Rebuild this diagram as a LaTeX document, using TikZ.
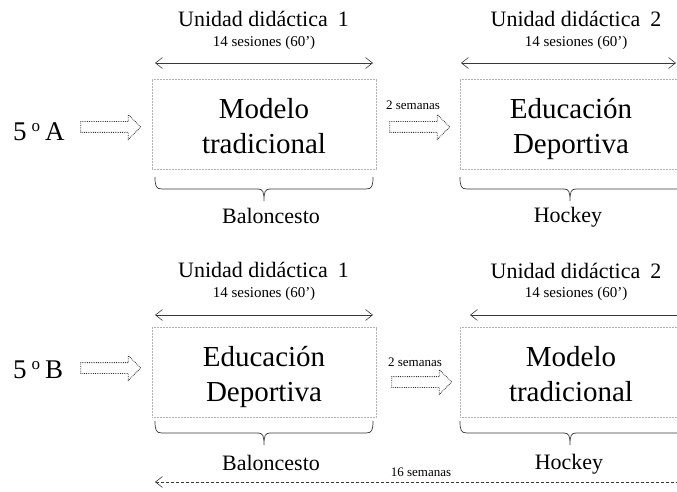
\documentclass[tikz,border=0pt]{standalone}
\usepackage{fontspec}
\setmainfont{Liberation Serif}
\usetikzlibrary{shapes.arrows,arrows.meta}
\newcommand\mybrace[4]{\draw[bracepath] (#1,#4) .. controls (#1,{#4+9}) and ({#1+1},{#4+12}) .. ({#1+7},{#4+12}) -- ({#3-6},{#4+12}) .. controls ({#3-1},{#4+12}) and (#3,{#4+15}) .. (#3,{#4+24}) .. controls (#3,{#4+15}) and ({#3+1},{#4+12}) .. ({#3+6},{#4+12}) -- ({#2-7},{#4+12}) .. controls ({#2-1},{#4+12}) and (#2,{#4+9}) .. (#2,#4);}
\begin{document}
\begin{tikzpicture}[x=1pt,y=-1pt,
  >={Straight Barb[length=7pt,width=11pt]},
  box/.style={draw=gray!60, line width=0.6pt, dash pattern=on 1pt off 0.5pt, minimum width=224pt, minimum height=90pt, inner sep=0pt},
  boxtext/.style={font=\fontsize{29}{35}\selectfont, align=center, inner sep=0pt},
  title/.style={font=\fontsize{22}{26}\selectfont, anchor=base, inner sep=0pt},
  sub/.style={font=\fontsize{15}{18}\selectfont, anchor=base, inner sep=0pt},
  small/.style={font=\fontsize{13}{15}\selectfont, anchor=base, inner sep=0pt},
  group/.style={font=\fontsize{27}{30}\selectfont, anchor=base west, inner sep=0pt},
  span/.style={draw=gray!45!black, line width=0.6pt},
  blockarrow/.style={shape=single arrow, draw=black!80, line width=0.8pt, densely dotted, inner xsep=0pt, inner ysep=5pt, minimum height=60pt, single arrow head extend=7pt},
  bracepath/.style={draw=gray!45!black, line width=0.7pt},
]
\clip (0,0) rectangle (677,492);
\fill[white] (0,0) rectangle (677,492);

% ---------- Row A ----------
\node[title] (t1a) at (263.5,27) {Unidad didáctica\hspace{10pt}1};
\node[sub] (s1a) at (264,47) {14 sesiones (60’)};
\coordinate (l1a) at (155,63); \coordinate (r1a) at (373,63);
\draw[span, <->] (l1a) -- (r1a);
\node[box] (b1a) at (264,124) {};
\node[boxtext] (m1a) at ([yshift=-5pt]b1a.center) {Modelo\\tradicional\vphantom{p}};
\mybrace{155}{373}{264}{177}
\node[title] (bal1) at (271,223) {Baloncesto};

\node[title] (t2a) at (576,27) {Unidad didáctica\hspace{10pt}2};
\node[sub] (s2a) at (576,47) {14 sesiones (60’)};
\coordinate (l2a) at (461,63); \coordinate (r2a) at (676,63);
\draw[span, <->] (l2a) -- (r2a);
\node[box] (b2a) at (572,124) {};
\node[boxtext] (m2a) at ([xshift=-1pt,yshift=-5pt]b2a.center) {Educación\\Deportiva};
\mybrace{460}{684}{570}{177}
\node[title] (hoc1) at (568,222) {Hockey};

\node[group] (ga) at (13,140) {5\hspace{5pt}\raisebox{9pt}{\fontsize{17}{17}\selectfont o}\hspace{5pt}A};
\node[blockarrow] (aa) at (108,127) {};
\node[small] (w1) at (413,110) {2 semanas};
\node[blockarrow] (ma) at (417,127) {};

% ---------- Row B ----------
\node[title] (t1b) at (263.5,277) {Unidad didáctica\hspace{10pt}1};
\node[sub] (s1b) at (264,297) {14 sesiones (60’)};
\coordinate (l1b) at (155,315); \coordinate (r1b) at (373,315);
\draw[span, <->] (l1b) -- (r1b);
\node[box] (b1b) at (264,372.5) {};
\node[boxtext] (m1b) at ([yshift=-5pt]b1b.center) {Educación\\Deportiva};
\mybrace{155}{373}{264}{421}
\node[title] (bal2) at (271,470) {Baloncesto};

\node[title] (t2b) at (576,278) {Unidad didáctica\hspace{10pt}2};
\node[sub] (s2b) at (576,297) {14 sesiones (60’)};
\coordinate (l2b) at (470,315); \coordinate (r2b) at (692,315);
\draw[span, <->] (l2b) -- (r2b);
\node[box] (b2b) at (572,372.5) {};
\node[boxtext] (m2b) at ([xshift=-1pt,yshift=-5pt]b2b.center) {Modelo\\tradicional\vphantom{p}};
\mybrace{460}{684}{570}{421}
\node[title] (hoc2) at (569,469) {Hockey};

\node[group] (gb) at (13,378) {5\hspace{5pt}\raisebox{9pt}{\fontsize{17}{17}\selectfont o}\hspace{5pt}B};
\node[blockarrow] (ab) at (108,368) {};
\node[small] (w2) at (415,366) {2 semanas};
\node[blockarrow] (mb) at (419,382) {};

% ---------- total span ----------
\node[small] (w16) at (421,476) {16 semanas};
\coordinate (tl) at (155,482); \coordinate (tr) at (700,482);
\draw[span, dash pattern=on 3pt off 2pt, <-] (tl) -- (tr);
\end{tikzpicture}
\end{document}
